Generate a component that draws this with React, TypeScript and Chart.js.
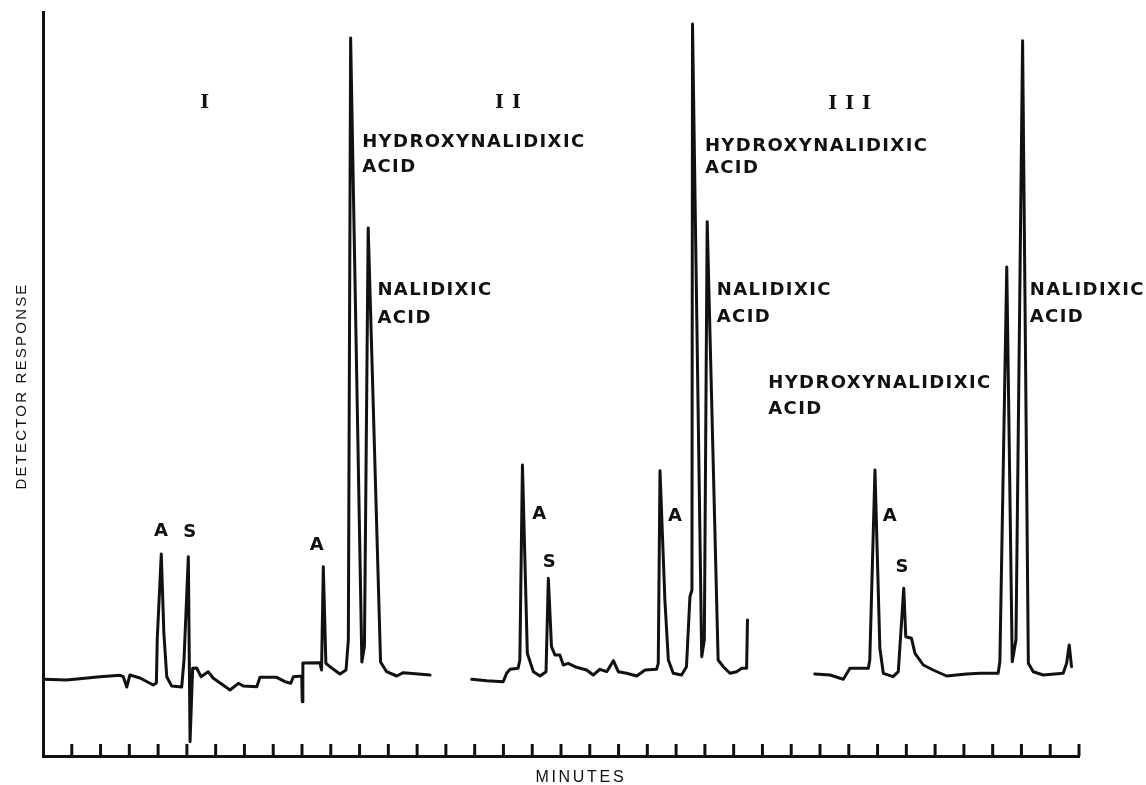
import React, { useEffect, useRef } from "react";
import { Chart, registerables } from "chart.js";

Chart.register(...registerables);

// ---------- data (x in minute ticks, y in detector response units) ----------
const run1Minutes = [0.03, 0.82, 1.98, 2.68, 2.79, 2.91, 3.02, 3.37, 3.83, 3.94, 3.97, 4.11, 4.2, 4.3, 4.47, 4.82, 4.9, 5.05, 5.11, 5.2, 5.34, 5.49, 5.74, 5.92, 6.5, 6.79, 6.96, 7.43, 7.54, 8.12, 8.41, 8.61, 8.7, 8.99, 9.01, 9.03, 9.62, 9.68, 9.74, 9.83, 9.97, 10.32, 10.53, 10.61, 10.69, 11.08, 11.17, 11.3, 11.73, 11.94, 12.29, 12.52, 13.45];
const run1Response = [76.7, 76, 79.3, 80.7, 79.3, 69, 81, 78, 71, 73, 117, 202, 123, 79.3, 70, 69, 96, 199.3, 14.3, 87.7, 88, 79.3, 84.3, 77.7, 66, 72.7, 70, 69.3, 78.7, 78.7, 74.3, 72.7, 79.3, 80, 54.3, 93, 93.3, 86, 189.3, 92.7, 89.3, 82, 86, 116, 718, 94, 110, 528, 94, 84.3, 80, 83.3, 81];

const run2Minutes = [14.9, 15.42, 15.99, 16.11, 16.23, 16.51, 16.57, 16.66, 16.83, 17.04, 17.27, 17.48, 17.56, 17.67, 17.79, 17.96, 18.08, 18.25, 18.54, 18.89, 19.12, 19.35, 19.59, 19.82, 19.99, 20.28, 20.63, 20.92, 21.32, 21.38, 21.44, 21.61, 21.73, 21.9, 22.19, 22.36, 22.48, 22.55, 22.57, 22.89, 22.98, 23.08, 23.46, 23.64, 23.87, 24.1, 24.28, 24.45, 24.48];
const run2Response = [76.7, 75.3, 74.3, 82.7, 86.7, 87.7, 96, 291, 102.7, 84.3, 80, 84.3, 177.7, 109.3, 101, 101, 91, 92.7, 88.7, 86, 81, 86.7, 84.3, 95.3, 84.3, 82.7, 80, 86, 86.7, 92.7, 285.3, 156, 96, 82.7, 81, 89.3, 159.3, 166, 732, 99.3, 116, 534.3, 96, 89.3, 82.7, 84.3, 87.7, 87.7, 136];

const run3Minutes = [26.82, 27.35, 27.81, 28.04, 28.68, 28.73, 28.91, 29.08, 29.2, 29.54, 29.72, 29.91, 29.98, 30.18, 30.3, 30.59, 30.93, 31.4, 32.09, 32.56, 33.19, 33.25, 33.49, 33.68, 33.81, 34.04, 34.24, 34.41, 34.76, 35.45, 35.57, 35.66, 35.74];
const run3Response = [82, 81, 76.7, 87.7, 87.7, 96, 286, 107.7, 82.7, 79.3, 84.3, 167.7, 119.3, 117.7, 102.7, 91, 86, 80, 82, 82.7, 82.7, 94.3, 489, 94.3, 116, 715.3, 92.7, 84.3, 81, 82.7, 92.7, 111, 89.3];

// axis range
const minuteRange = [0, 36];
const responseRange = [0, 744];

// run numerals (left edge, baseline) in data units
const runNames = ["I", "II", "III"];
const runNameMinute = [5.46, 15.71, 27.29];
const runNameResponse = [648, 648, 647];

// compound labels (left edge, baseline) in data units
const compoundText = [
  "HYDROXYNALIDIXIC", "ACID", "NALIDIXIC", "ACID",
  "HYDROXYNALIDIXIC", "ACID", "NALIDIXIC", "ACID",
  "HYDROXYNALIDIXIC", "ACID", "NALIDIXIC", "ACID",
];
const compoundMinute = [11.09, 11.09, 11.62, 11.62, 23.0, 23.0, 23.41, 23.41, 25.2, 25.2, 34.29, 34.29];
const compoundResponse = [609.3, 584.3, 461, 433.3, 605.3, 582.7, 461, 434.3, 367.7, 342, 461, 434.3];

// peak letters (centre, baseline) in data units
const peakText = ["A", "S", "A", "A", "S", "A", "A", "S"];
const peakMinute = [4.1, 5.1, 9.51, 17.24, 17.59, 21.96, 29.42, 29.85];
const peakResponse = [220, 219.3, 206, 236.7, 189.3, 235.3, 235.3, 184.3];

const xTitle = "MINUTES";
const yTitle = "DETECTOR RESPONSE";

const INK = "#111111";
const SANS = '"Liberation Sans", Arial, sans-serif';
const HEAVY = '"DejaVu Sans", "Liberation Sans", sans-serif';
const SERIF = '"DejaVu Serif", "Liberation Serif", serif';

const zip = (xs: number[], ys: number[]) => xs.map((x, i) => ({ x, y: ys[i] }));

const overlayPlugin = {
  id: "chromOverlay",
  afterDraw(chart: any) {
    const { ctx, chartArea } = chart;
    const xs = chart.scales.x;
    const ys = chart.scales.y;
    ctx.save();
    // tick marks pointing upward from the minutes axis
    ctx.strokeStyle = INK;
    ctx.lineWidth = 3;
    ctx.lineCap = "butt";
    xs.ticks.forEach((t: any) => {
      if (t.value <= xs.min) return;
      const px = xs.getPixelForValue(t.value);
      ctx.beginPath();
      ctx.moveTo(px, chartArea.bottom);
      ctx.lineTo(px, chartArea.bottom - 12);
      ctx.stroke();
    });

    ctx.fillStyle = INK;
    ctx.textBaseline = "alphabetic";

    // run numerals
    ctx.font = `bold 19px ${SERIF}`;
    ctx.textAlign = "left";
    (ctx as any).letterSpacing = "8px";
    runNames.forEach((s, i) => {
      ctx.fillText(s, xs.getPixelForValue(runNameMinute[i]), ys.getPixelForValue(runNameResponse[i]));
    });

    // compound labels
    ctx.font = `bold 18px ${HEAVY}`;
    (ctx as any).letterSpacing = "1.4px";
    compoundText.forEach((s, i) => {
      ctx.fillText(s, xs.getPixelForValue(compoundMinute[i]), ys.getPixelForValue(compoundResponse[i]));
    });

    // peak letters
    (ctx as any).letterSpacing = "0px";
    ctx.textAlign = "center";
    ctx.font = `bold 18px ${HEAVY}`;
    peakText.forEach((s, i) => {
      ctx.fillText(s, xs.getPixelForValue(peakMinute[i]), ys.getPixelForValue(peakResponse[i]));
    });

    // axis titles
    ctx.font = `16px ${SANS}`;
    (ctx as any).letterSpacing = "2.7px";
    ctx.textAlign = "center";
    ctx.fillText(xTitle, xs.getPixelForValue(18.69), chartArea.bottom + 26);

    ctx.font = `15px ${SANS}`;
    (ctx as any).letterSpacing = "2.2px";
    ctx.translate(chartArea.left - 17, (chartArea.top + chartArea.bottom) / 2 + 2);
    ctx.rotate(-Math.PI / 2);
    ctx.fillText(yTitle, 0, 0);
    ctx.restore();
  },
};

export default function App() {
  const canvasRef = useRef<HTMLCanvasElement | null>(null);

  useEffect(() => {
    if (!canvasRef.current) return;
    const line = (data: { x: number; y: number }[]) => ({
      data,
      showLine: true,
      borderColor: INK,
      borderWidth: 3,
      borderJoinStyle: "round" as const,
      borderCapStyle: "round" as const,
      pointRadius: 0,
      tension: 0,
      fill: false,
    });
    const chart = new Chart(canvasRef.current, {
      type: "scatter",
      data: {
        datasets: [
          line(zip(run1Minutes, run1Response)),
          line(zip(run2Minutes, run2Response)),
          line(zip(run3Minutes, run3Response)),
        ],
      },
      options: {
        animation: false,
        responsive: false,
        events: [],
        layout: { padding: { left: 43, right: 67, top: 12, bottom: 29 } },
        plugins: { legend: { display: false }, tooltip: { enabled: false } },
        scales: {
          x: {
            type: "linear",
            min: minuteRange[0],
            max: minuteRange[1],
            grid: { display: false, drawTicks: false },
            border: { display: true, color: INK, width: 3 },
            ticks: { display: false, stepSize: 1, autoSkip: false, maxTicksLimit: 100 },
          },
          y: {
            type: "linear",
            min: responseRange[0],
            max: responseRange[1],
            grid: { display: false, drawTicks: false },
            border: { display: true, color: INK, width: 3 },
            ticks: { display: false },
          },
        },
      },
      plugins: [overlayPlugin],
    });
    return () => chart.destroy();
  }, []);

  return (
    <div style={{ position: "absolute", left: 0, top: 0, width: 1146, height: 785, background: "#fff" }}>
      <canvas ref={canvasRef} width={1146} height={785} style={{ width: 1146, height: 785 }} />
    </div>
  );
}
